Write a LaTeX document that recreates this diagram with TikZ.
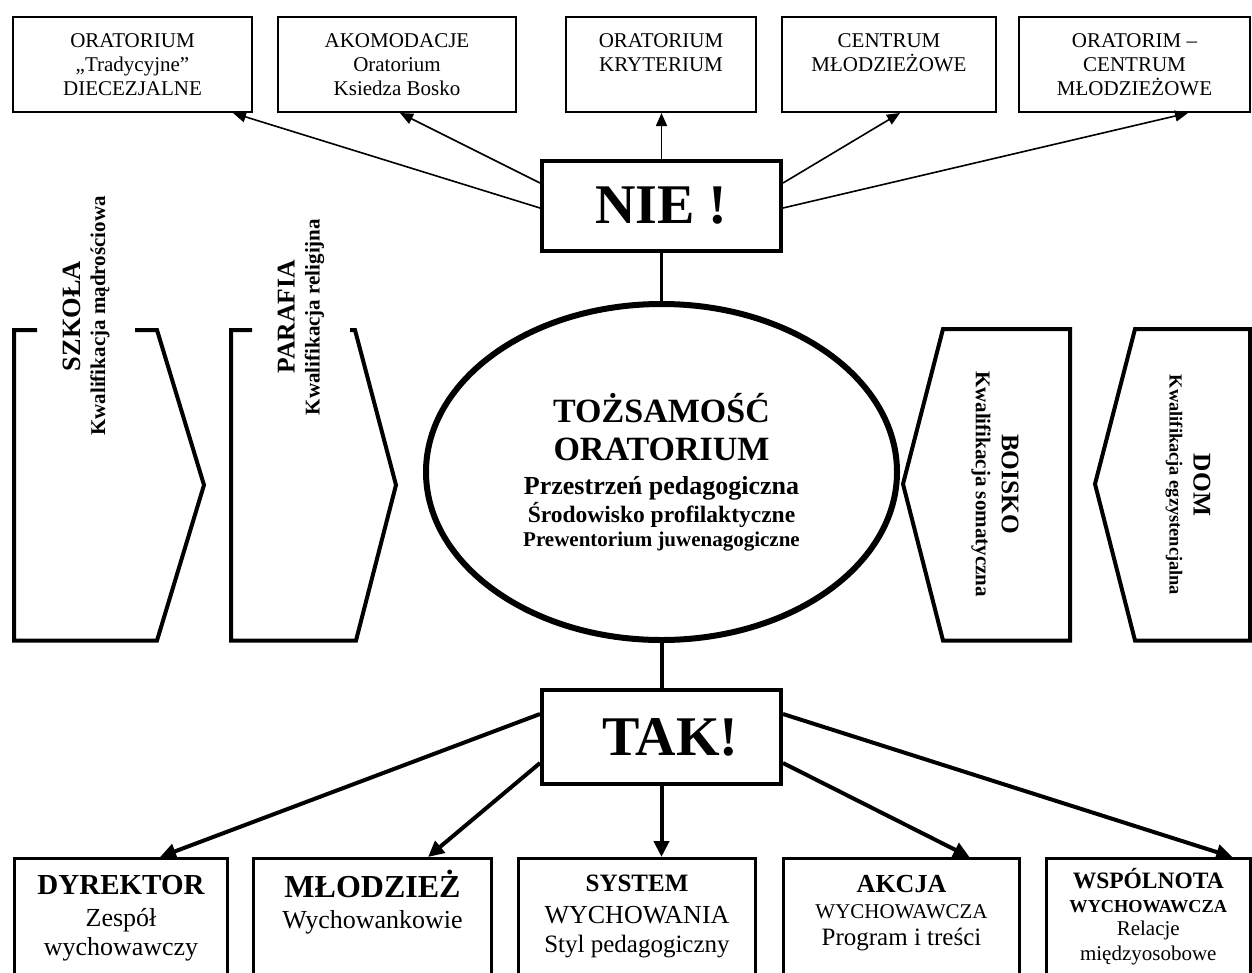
\documentclass[tikz,border=0pt]{standalone}
\usepackage{fontspec}
\setmainfont{Liberation Serif}
\usetikzlibrary{shapes.geometric,arrows.meta}
\newcommand\tboxtext[2]{\parbox[c][95pt][t]{#1}{\centering\fontsize{21}{24}\selectfont\rule{0pt}{30pt}#2\par}}
\newcommand\bboxtext[2]{\parbox[c][130pt][t]{#1}{\centering #2}}
\begin{document}
\begin{tikzpicture}[x=1pt,y=-1pt,
  topbox/.style={draw, line width=2pt, inner sep=0pt, anchor=north west},
  botbox/.style={draw, line width=3pt, inner sep=0pt, anchor=north west},
  bigbox/.style={draw, line width=4pt, inner sep=0pt, minimum width=239pt, font=\bfseries\fontsize{56}{56}\selectfont},
  ell/.style={draw, ellipse, line width=6pt, inner sep=0pt, minimum width=471pt, minimum height=336pt},
  thinarrow/.style={line width=1.6pt, -{Triangle[length=13pt,width=11pt]}},
  thickarrow/.style={line width=4pt, -{Triangle[length=16pt,width=15pt]}},
  side/.style={line width=4pt, line join=miter},
  sidetext/.style={inner sep=0pt}
]
\useasboundingbox (0,0) rectangle (1252,972);
\clip (0,0) rectangle (1252,972);

% top boxes
\node[topbox] (t1) at (12,16) {\tboxtext{239pt}{ORATORIUM\\„Tradycyjne”\\DIECEZJALNE}};
\node[topbox] (t2) at (277,16) {\tboxtext{238pt}{AKOMODACJE\\Oratorium\\Ksiedza Bosko}};
\node[topbox] (t3) at (565,16) {\tboxtext{190pt}{ORATORIUM\\KRYTERIUM}};
\node[topbox] (t4) at (781,16) {\tboxtext{214pt}{CENTRUM\\MŁODZIEŻOWE}};
\node[topbox] (t5) at (1018,16) {\tboxtext{231pt}{ORATORIM –\\CENTRUM\\MŁODZIEŻOWE}};

% central nodes
\node[bigbox, minimum height=90pt] (nie) at (661.5,206) {NIE !};
\node[ell] (ell) at (661.5,472) {\parbox{300pt}{\centering\bfseries
  \fontsize{34}{38}\selectfont TOŻSAMOŚĆ\par
  ORATORIUM\par
  \fontsize{26}{34}\selectfont Przestrzeń pedagogiczna\par
  \fontsize{23.5}{28}\selectfont Środowisko profilaktyczne\par
  \fontsize{21}{24}\selectfont Prewentorium juwenagogiczne\par}};
\node[bigbox, minimum height=94pt] (tak) at (661.5,737) {\hspace*{18pt}TAK!};

% bottom boxes
\node[botbox] (b1) at (13,857) {\bboxtext{213pt}{\rule{0pt}{35.5pt}{\fontsize{29}{29}\selectfont\bfseries DYREKTOR}\par
  \fontsize{26}{32}\selectfont Zespół\par
  \fontsize{26}{29}\selectfont wychowawczy\par}};
\node[botbox] (b2) at (252,857) {\bboxtext{238pt}{\rule{0pt}{38.5pt}{\fontsize{32}{32}\selectfont\bfseries MŁODZIEŻ}\par
  \fontsize{26}{31}\selectfont Wychowankowie\par}};
\node[botbox] (b3) at (517,857) {\bboxtext{237pt}{\rule{0pt}{32.5pt}{\fontsize{25}{25}\selectfont\bfseries SYSTEM}\par
  \fontsize{26}{32}\selectfont WYCHOWANIA\par
  \fontsize{25}{29}\selectfont Styl pedagogiczny\par}};
\node[botbox] (b4) at (782,857) {\bboxtext{236pt}{\rule{0pt}{33.5pt}{\fontsize{26}{26}\selectfont\bfseries AKCJA}\par
  \fontsize{21}{26}\selectfont WYCHOWAWCZA\par
  \fontsize{25}{27}\selectfont Program i treści\par}};
\node[botbox] (b5) at (1045,857) {\bboxtext{203.5pt}{\rule{0pt}{29.5pt}{\fontsize{23.5}{24}\selectfont\bfseries WSPÓLNOTA}\par
  {\bfseries\fontsize{18.3}{24}\selectfont WYCHOWAWCZA\par}
  \fontsize{21}{23}\selectfont Relacje\par
  \fontsize{21}{25}\selectfont międzyosobowe\par}};

% side shapes
\draw[side] (37,330) -- (14,330) -- (14,640.5) -- (157,640.5) -- (204,485) -- (157,330) -- (135,330);
\draw[side] (252,330) -- (231,330) -- (231,640.5) -- (356,640.5) -- (396,485) -- (355,330) -- (350,330);
\draw[side] (943,329) -- (1070,329) -- (1070,640.5) -- (943,640.5) -- (903,484) -- cycle;
\draw[side] (1135,329) -- (1250,329) -- (1250,640.5) -- (1135,640.5) -- (1095,484) -- cycle;

\node[sidetext, rotate=90] (szkola) at (86,316) {\parbox{260pt}{\centering\bfseries
  \fontsize{26.4}{26}\selectfont SZKOŁA\par
  \fontsize{21}{25}\selectfont Kwalifikacja mądrościowa\par}};
\node[sidetext, rotate=90] (parafia) at (301,317) {\parbox{220pt}{\centering\bfseries
  \fontsize{25.6}{26}\selectfont PARAFIA\par
  \fontsize{21}{25}\selectfont Kwalifikacja religijna\par}};
\node[sidetext, rotate=-90] (boisko) at (995,484) {\parbox{250pt}{\centering\bfseries
  \fontsize{25.3}{26}\selectfont BOISKO\par
  \fontsize{21}{26}\selectfont Kwalifikacja somatyczna\par}};
\node[sidetext, rotate=-90] (dom) at (1188,485) {\parbox{240pt}{\centering\bfseries
  \fontsize{25.4}{26}\selectfont DOM\par
  \fontsize{18.4}{24}\selectfont Kwalifikacja egzystencjalna\par}};

% connectors
\draw[line width=3pt] (nie.south) -- (ell.north);
\draw[line width=4pt] (ell.south) -- (tak.north);

\draw[thinarrow] ([yshift=-2pt]nie.west) -- ([xshift=100.5pt]t1.south);
\draw[thinarrow] ([yshift=23pt]nie.west) -- ([xshift=3pt]t2.south);
\draw[thinarrow] (nie.north) -- (nie.north |- t3.south);
\draw[thinarrow] ([yshift=23pt]nie.east) -- ([xshift=11pt]t4.south);
\draw[thinarrow] ([yshift=-2pt]nie.east) -- ([xshift=53.5pt]t5.south);

\draw[thickarrow] ([yshift=23pt]tak.west) -- ([xshift=39pt]b1.north);
\draw[thickarrow] ([yshift=-26pt]tak.west) -- ([xshift=55.5pt]b2.north);
\draw[thickarrow] (tak.south) -- (tak.south |- b3.north);
\draw[thickarrow] ([yshift=-26pt]tak.east) -- ([xshift=68pt]b4.north);
\draw[thickarrow] ([yshift=23pt]tak.east) -- ([xshift=84pt]b5.north);
\end{tikzpicture}
\end{document}
